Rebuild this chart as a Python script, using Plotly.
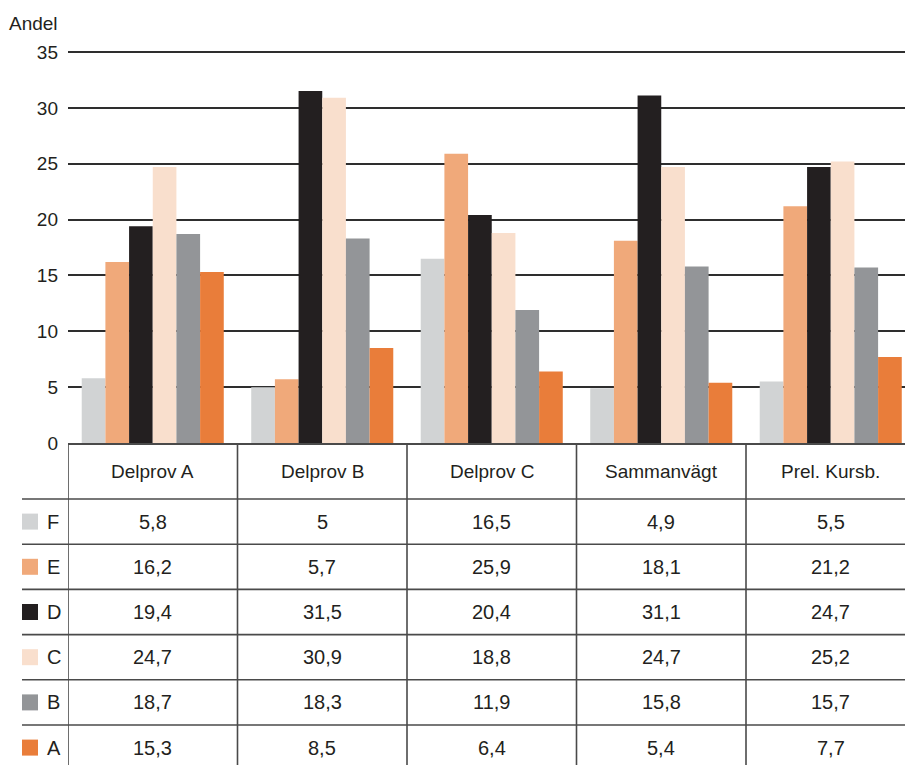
import plotly.graph_objects as go

# Chart data
categories = ["Delprov A", "Delprov B", "Delprov C", "Sammanvägt", "Prel. Kursb."]
grades = ["F", "E", "D", "C", "B", "A"]
values = {
    "F": [5.8, 5.0, 16.5, 4.9, 5.5],
    "E": [16.2, 5.7, 25.9, 18.1, 21.2],
    "D": [19.4, 31.5, 20.4, 31.1, 24.7],
    "C": [24.7, 30.9, 18.8, 24.7, 25.2],
    "B": [18.7, 18.3, 11.9, 15.8, 15.7],
    "A": [15.3, 8.5, 6.4, 5.4, 7.7],
}
colors = {
    "F": "#D1D3D4",
    "E": "#F0A97A",
    "D": "#231F20",
    "C": "#F9DFCD",
    "B": "#939598",
    "A": "#E97D3A",
}
y_ticks = [0, 5, 10, 15, 20, 25, 30, 35]
y_title = "Andel"

# Page geometry (pixels)
W, H = 905, 765
LEFT = 68
PLOT_W = W - LEFT
CAT_W = 169.5
Y0_PX = 443.0          # pixel row of value 0
PX_PER_UNIT = 11.171
Y_MAX = 35.2
HEADER_BOTTOM = 499.0
ROW_H = 45.2
TEXT = "#231F20"
LINE = "#4a4a4a"
FONT = "Liberation Sans"


def py(px):
    """Pixel row -> paper y."""
    return 1 - px / H


def px_x(px):
    """Pixel column -> paper x."""
    return (px - LEFT) / PLOT_W


def fmt(v):
    return f"{v:g}".replace(".", ",")


fig = go.Figure()
for g in grades:
    fig.add_trace(go.Bar(
        x=categories, y=values[g], name=g,
        marker=dict(color=colors[g], line=dict(width=0)),
        hoverinfo="skip",
    ))

x_hi = -0.5 + PLOT_W / CAT_W
top_px = Y0_PX - Y_MAX * PX_PER_UNIT

shapes = []
annotations = []

# Vertical table lines at category boundaries
for k in range(len(categories)):
    shapes.append(dict(type="line", xref="x", yref="paper",
                       x0=k - 0.5, x1=k - 0.5, y0=py(Y0_PX), y1=0,
                       line=dict(color=LINE, width=1.6)))

# Horizontal row separators and legend rows
for i, g in enumerate(grades):
    top = HEADER_BOTTOM + i * ROW_H
    shapes.append(dict(type="line", xref="paper", yref="paper",
                       x0=px_x(22), x1=1.0, y0=py(top), y1=py(top),
                       line=dict(color=LINE, width=1.6)))
    cy = top + ROW_H / 2
    shapes.append(dict(type="rect", xref="paper", yref="paper",
                       x0=px_x(22), x1=px_x(38), y0=py(cy - 8), y1=py(cy + 8),
                       fillcolor=colors[g], line=dict(width=0)))
    annotations.append(dict(xref="paper", yref="paper", x=px_x(45), y=py(cy),
                            text=g, showarrow=False, xanchor="left", yanchor="middle",
                            font=dict(family=FONT, size=20, color=TEXT)))
    for j, c in enumerate(categories):
        annotations.append(dict(xref="x", yref="paper", x=c, y=py(cy),
                                text=fmt(values[g][j]), showarrow=False,
                                xanchor="center", yanchor="middle",
                                font=dict(family=FONT, size=20, color=TEXT)))

# Header row with category names
for c in categories:
    annotations.append(dict(xref="x", yref="paper", x=c, y=py(471),
                            text=c, showarrow=False, xanchor="center", yanchor="middle",
                            font=dict(family=FONT, size=19, color=TEXT)))

# Axis title
annotations.append(dict(xref="paper", yref="paper", x=px_x(7), y=py(23),
                        text=y_title, showarrow=False, xanchor="left", yanchor="middle",
                        font=dict(family=FONT, size=19, color=TEXT)))

fig.update_layout(
    width=W, height=H,
    margin=dict(l=LEFT, r=0, t=0, b=0, autoexpand=False),
    paper_bgcolor="white", plot_bgcolor="white",
    barmode="group", bargap=0.162, bargroupgap=0,
    showlegend=False,
    shapes=shapes, annotations=annotations,
    xaxis=dict(range=[-0.5, x_hi], showticklabels=False, ticks="",
               showgrid=False, zeroline=False, showline=True,
               linecolor=LINE, linewidth=1.6, fixedrange=True),
    yaxis=dict(range=[0, Y_MAX], domain=[py(Y0_PX), py(top_px)],
               tickvals=y_ticks, showgrid=True, gridcolor="#2e2e2e", gridwidth=1.5,
               zeroline=False, showline=False, ticks="",
               ticklabelstandoff=9, automargin=False,
               tickfont=dict(family=FONT, size=19, color=TEXT), fixedrange=True),
)

fig.write_html("out.html")
